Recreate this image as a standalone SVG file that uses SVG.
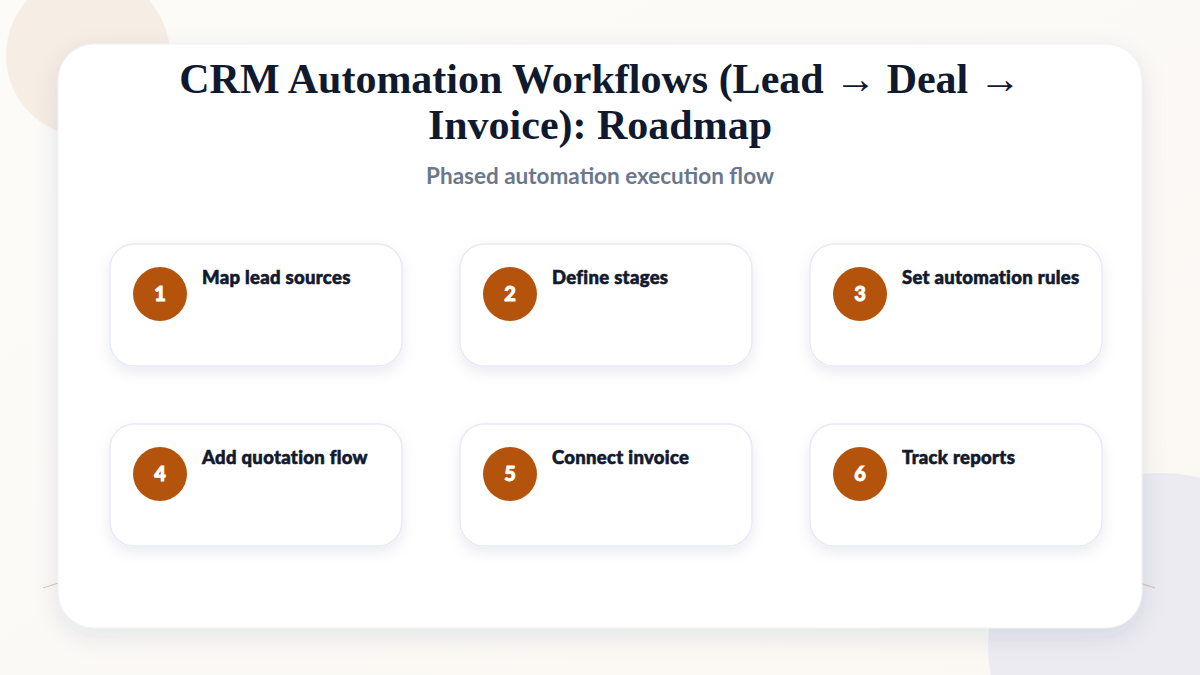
<svg xmlns="http://www.w3.org/2000/svg" width="1200" height="675" viewBox="0 0 1200 675">
<defs>
<linearGradient id="bg" x1="0" y1="0" x2="1" y2="1">
<stop offset="0" stop-color="#fcfbf8"/>
<stop offset="1" stop-color="#fbf8f3"/>
</linearGradient>
<filter id="sh" x="-10%" y="-10%" width="120%" height="130%">
<feDropShadow dx="0" dy="8" stdDeviation="12" flood-color="#1e2a5a" flood-opacity="0.10"/>
</filter>
<filter id="csh" x="-10%" y="-20%" width="120%" height="150%">
<feDropShadow dx="0" dy="6" stdDeviation="7" flood-color="#1e2a5a" flood-opacity="0.08"/>
</filter>
<style>
.card{fill:#ffffff;stroke:#e6eaf6;stroke-width:1.5;filter:url(#csh)}
.num{fill:#b4530c}
.numt{fill:#ffffff;stroke:#ffffff;stroke-width:0.9;font-family:Lato,"Noto Sans",sans-serif;font-weight:900;font-size:20px;text-anchor:middle}
.lbl{fill:#111a2e;stroke:#111a2e;stroke-width:0.6;font-family:Lato,"Noto Sans",sans-serif;font-weight:900;font-size:18.5px;letter-spacing:0.3px}
.title{fill:#0f1a2e;font-family:"Liberation Serif","Times New Roman",serif;font-weight:bold;font-size:42px;text-anchor:middle}
.sub{fill:#6b778c;font-family:Lato,"Noto Sans",sans-serif;font-weight:bold;font-size:22.5px;text-anchor:middle}
</style>
</defs>
<rect width="1200" height="675" fill="url(#bg)"/>
<circle cx="88" cy="55" r="82" fill="#f6ede5"/>
<circle cx="1160" cy="645" r="172" fill="#ebebf1"/>
<g id="connectors">
<path d="M43,588 Q600,400 1155,588" fill="none" stroke="#c9a58a" stroke-width="1.2" opacity="0.6"/>
</g>
<rect x="58" y="44" width="1084" height="584" rx="36" fill="#ffffff" filter="url(#sh)" stroke="#eef0f6" stroke-width="1"/>
<g id="title">
<text class="title" x="600" y="93">CRM Automation Workflows (Lead → Deal →</text>
<text class="title" x="600" y="139">Invoice): Roadmap</text>
<text class="sub" x="600" y="184">Phased automation execution flow</text>
</g>
<g id="node1">
<rect class="card" x="110" y="244" width="292" height="122" rx="24"/>
<circle class="num" cx="160" cy="294" r="27"/>
<text class="numt" x="160" y="301">1</text>
<text class="lbl" x="202" y="284">Map lead sources</text>
</g>
<g id="node2">
<rect class="card" x="460" y="244" width="292" height="122" rx="24"/>
<circle class="num" cx="510" cy="294" r="27"/>
<text class="numt" x="510" y="301">2</text>
<text class="lbl" x="552" y="284">Define stages</text>
</g>
<g id="node3">
<rect class="card" x="810" y="244" width="292" height="122" rx="24"/>
<circle class="num" cx="860" cy="294" r="27"/>
<text class="numt" x="860" y="301">3</text>
<text class="lbl" x="902" y="284">Set automation rules</text>
</g>
<g id="node4">
<rect class="card" x="110" y="424" width="292" height="122" rx="24"/>
<circle class="num" cx="160" cy="474" r="27"/>
<text class="numt" x="160" y="481">4</text>
<text class="lbl" x="202" y="464">Add quotation flow</text>
</g>
<g id="node5">
<rect class="card" x="460" y="424" width="292" height="122" rx="24"/>
<circle class="num" cx="510" cy="474" r="27"/>
<text class="numt" x="510" y="481">5</text>
<text class="lbl" x="552" y="464">Connect invoice</text>
</g>
<g id="node6">
<rect class="card" x="810" y="424" width="292" height="122" rx="24"/>
<circle class="num" cx="860" cy="474" r="27"/>
<text class="numt" x="860" y="481">6</text>
<text class="lbl" x="902" y="464">Track reports</text>
</g>
</svg>
